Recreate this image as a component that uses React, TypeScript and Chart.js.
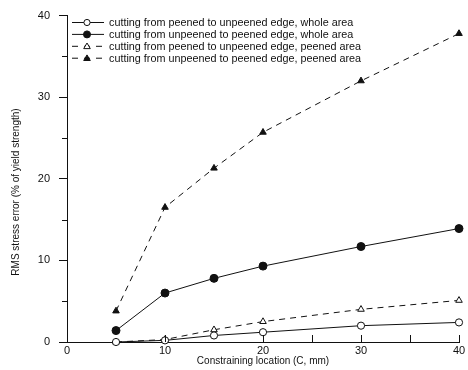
import React, { useEffect, useRef } from "react";
import { Chart, registerables } from "chart.js";

Chart.register(...registerables);

// Constraining location, C (mm)
const locations = [5, 10, 15, 20, 30, 40];

// RMS stress error (% of yield strength)
const peenedToUnpeenedWhole = [0, 0.2, 0.8, 1.2, 2.0, 2.4];
const unpeenedToPeenedWhole = [1.4, 6.0, 7.8, 9.3, 11.7, 13.9];
const peenedToUnpeenedPeened = [0, 0.3, 1.5, 2.5, 4.0, 5.1];
const unpeenedToPeenedPeened = [3.8, 16.5, 21.3, 25.7, 32.0, 37.8];

const seriesLabels = [
  "cutting from peened to unpeened edge, whole area",
  "cutting from unpeened to peened edge, whole area",
  "cutting from peened to unpeened edge, peened area",
  "cutting from unpeened to peened edge, peened area",
];

const yMinorTicks = [5, 15, 25, 35];
const xInnerTicks = [10, 20, 25, 30, 35, 40];

const FONT = "'Liberation Sans', Arial, sans-serif";
const INK = "#111";

type Style = {
  pointStyle: "circle" | "triangle";
  filled: boolean;
  dash: number[];
  radius: number;
};

const styles: Style[] = [
  { pointStyle: "circle", filled: false, dash: [], radius: 3.6 },
  { pointStyle: "circle", filled: true, dash: [], radius: 4 },
  { pointStyle: "triangle", filled: false, dash: [6, 5], radius: 3.8 },
  { pointStyle: "triangle", filled: true, dash: [6, 5], radius: 3.8 },
];

const seriesValues = [
  peenedToUnpeenedWhole,
  unpeenedToPeenedWhole,
  peenedToUnpeenedPeened,
  unpeenedToPeenedPeened,
];

// Extra drawing: short minor ticks, inward x ticks, rotated y title and the legend box.
const decorations = {
  id: "decorations",
  afterDraw(chart: any) {
    const { ctx, scales, chartArea } = chart;
    const x = scales.x;
    const y = scales.y;
    ctx.save();
    ctx.strokeStyle = INK;
    ctx.lineWidth = 1;
    ctx.setLineDash([]);

    // minor y ticks, outward
    for (const v of yMinorTicks) {
      const py = Math.round(y.getPixelForValue(v)) + 0.5;
      ctx.beginPath();
      ctx.moveTo(chartArea.left - 5, py);
      ctx.lineTo(chartArea.left, py);
      ctx.stroke();
    }
    // x ticks pointing into the plot
    for (const v of xInnerTicks) {
      const px = Math.round(x.getPixelForValue(v)) + 0.5;
      ctx.beginPath();
      ctx.moveTo(px, chartArea.bottom);
      ctx.lineTo(px, chartArea.bottom - 7);
      ctx.stroke();
    }

    // y axis title
    ctx.fillStyle = INK;
    ctx.font = `10px ${FONT}`;
    ctx.textAlign = "center";
    ctx.textBaseline = "middle";
    ctx.translate(16, 192);
    ctx.rotate(-Math.PI / 2);
    ctx.fillText("RMS stress error (% of yield strength)", 0, 0);
    ctx.restore();

    // legend
    ctx.save();
    ctx.font = `10.8px ${FONT}`;
    ctx.textAlign = "left";
    ctx.textBaseline = "middle";
    ctx.fillStyle = INK;
    ctx.strokeStyle = INK;
    seriesLabels.forEach((label, i) => {
      const st = styles[i];
      const cy = 22.5 + i * 11.9;
      ctx.lineWidth = 1;
      ctx.setLineDash(st.dash.length ? [6, 6] : []);
      ctx.beginPath();
      ctx.moveTo(72, cy);
      ctx.lineTo(104, cy);
      ctx.stroke();
      ctx.setLineDash([]);
      const cx = 87;
      ctx.beginPath();
      if (st.pointStyle === "circle") {
        ctx.arc(cx, cy, st.radius - 0.5, 0, Math.PI * 2);
      } else {
        const r = st.radius - 0.5;
        ctx.moveTo(cx, cy - r);
        ctx.lineTo(cx + r, cy + r * 0.7);
        ctx.lineTo(cx - r, cy + r * 0.7);
        ctx.closePath();
      }
      ctx.fillStyle = st.filled ? INK : "#fff";
      ctx.fill();
      ctx.stroke();
      ctx.fillStyle = INK;
      ctx.fillText(label, 109, cy + 0.5);
    });
    ctx.restore();
  },
};

export default function App() {
  const canvasRef = useRef<HTMLCanvasElement | null>(null);

  useEffect(() => {
    const canvas = canvasRef.current;
    if (!canvas) return;

    const datasets = seriesValues.map((vals, i) => {
      const st = styles[i];
      return {
        label: seriesLabels[i],
        data: locations.map((loc, j) => ({ x: loc, y: vals[j] })),
        borderColor: INK,
        borderWidth: 1,
        borderDash: st.dash,
        backgroundColor: INK,
        pointStyle: st.pointStyle,
        pointRadius: st.radius,
        pointBorderWidth: 1,
        pointBorderColor: INK,
        pointBackgroundColor: st.filled ? INK : "#fff",
        tension: 0,
        fill: false,
        clip: false as any,
      };
    });

    const chart = new Chart(canvas, {
      type: "line",
      data: { datasets },
      plugins: [decorations],
      options: {
        responsive: false,
        animation: false,
        devicePixelRatio: 1,
        layout: { padding: { top: 12, right: 9, left: 0, bottom: 0 } },
        plugins: {
          legend: { display: false },
          tooltip: { enabled: false },
        },
        scales: {
          x: {
            type: "linear",
            min: 0,
            max: 40,
            afterFit: (s: any) => {
              s.height = 28;
            },
            ticks: {
              stepSize: 10,
              color: INK,
              font: { family: FONT, size: 11 },
              padding: 2,
            },
            grid: { display: false, drawTicks: false },
            border: { display: true, color: INK, width: 1 },
            title: {
              display: true,
              text: "Constraining location (C, mm)",
              color: INK,
              font: { family: FONT, size: 10 },
              padding: { top: 0, bottom: 3 },
            },
          },
          y: {
            type: "linear",
            min: 0,
            max: 40,
            afterFit: (s: any) => {
              s.width = 67;
            },
            ticks: {
              stepSize: 10,
              color: INK,
              font: { family: FONT, size: 11 },
              padding: 9,
            },
            grid: {
              display: true,
              drawOnChartArea: false,
              drawTicks: true,
              tickLength: 8,
              tickColor: INK,
            },
            border: { display: true, color: INK, width: 1 },
          },
        },
      },
    });

    return () => chart.destroy();
  }, []);

  return (
    <div style={{ position: "fixed", left: 0, top: 0, width: 468, height: 370, background: "#fff" }}>
      <canvas ref={canvasRef} width={468} height={370} style={{ display: "block" }} />
    </div>
  );
}
